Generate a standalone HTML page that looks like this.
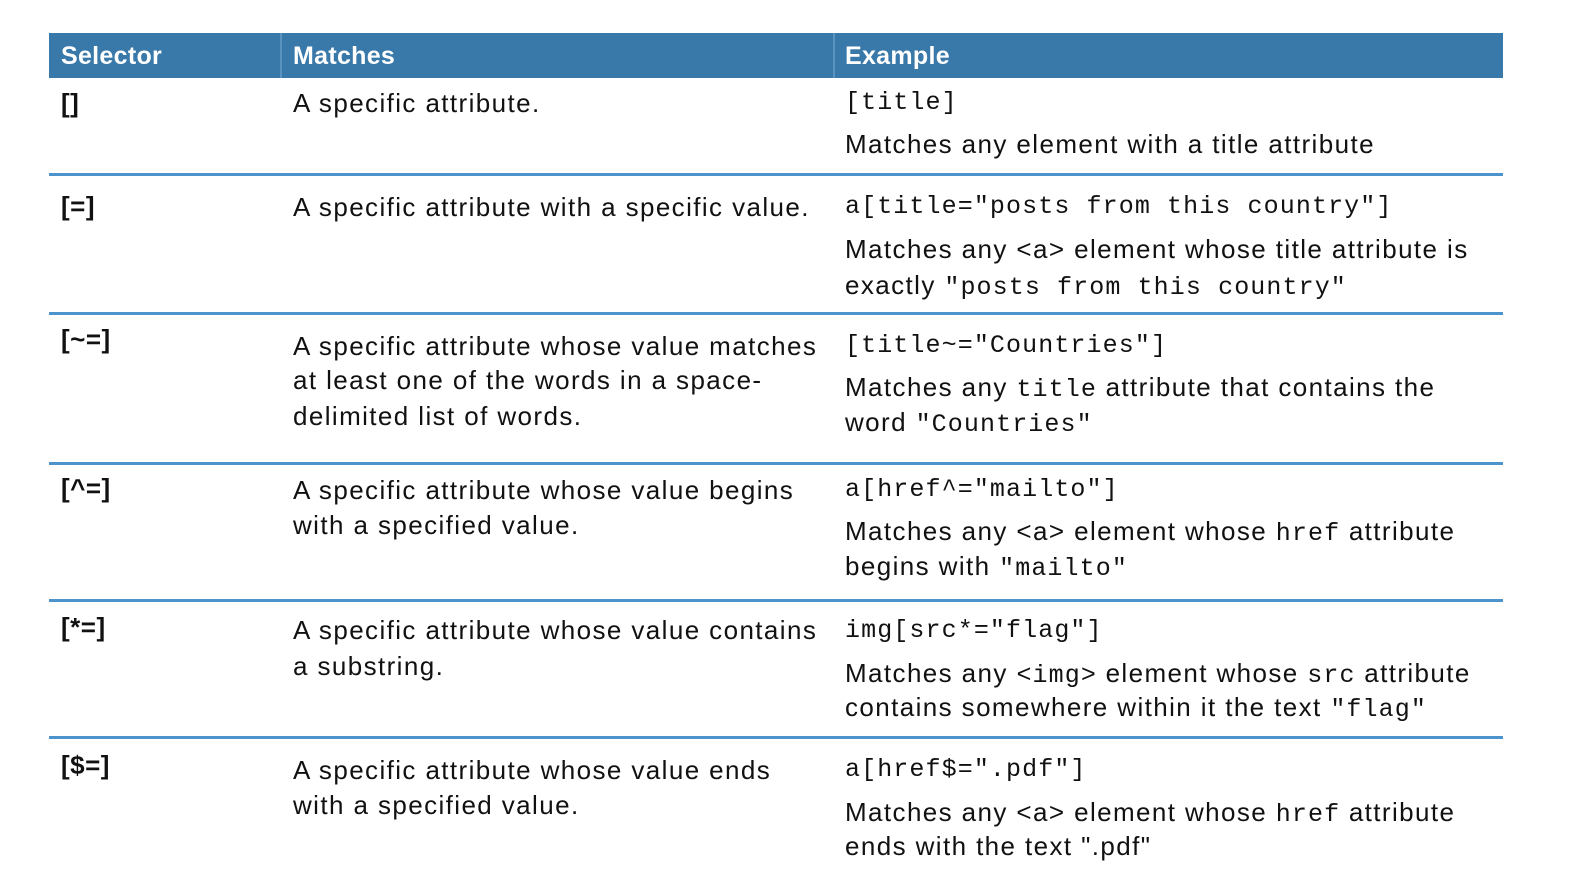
<!DOCTYPE html>
<html><head><meta charset="utf-8"><style>
body{margin:0;width:1594px;height:882px;background:#fff;position:relative;overflow:hidden;font-family:"Liberation Sans",sans-serif;color:#111}
.h{position:absolute;top:33px;left:49px;width:1454px;height:45px;background:#3979aa}
.hd{position:absolute;color:#fff;font-weight:bold;font-size:25px;line-height:30px;top:41px;letter-spacing:0.3px}
.vs{position:absolute;top:33px;width:2px;height:45px;background:#5a93c0}
.l{position:absolute;left:49px;width:1454px;height:3px;background:#4d94cc}
.t{position:absolute;font-size:26px;line-height:30px;white-space:nowrap;letter-spacing:1.4px}
.b{font-weight:bold;letter-spacing:0.5px}
.m{font-family:"Liberation Mono",monospace;font-size:25px;letter-spacing:1.1px}
</style></head><body>
<div class="h"></div>
<div class="vs" style="left:280px"></div><div class="vs" style="left:833px"></div>
<div class="hd" style="left:61px">Selector</div>
<div class="hd" style="left:293px">Matches</div>
<div class="hd" style="left:845px">Example</div>

<div class="l" style="top:173px"></div>
<div class="l" style="top:312px"></div>
<div class="l" style="top:462px"></div>
<div class="l" style="top:599px"></div>
<div class="l" style="top:736px"></div>

<div class="t b" style="left:61px;top:88px">[]</div>
<div class="t" style="left:293px;top:88px">A specific attribute.</div>
<div class="t m" style="left:845px;top:88px">[title]</div>
<div class="t" style="left:845px;top:129px">Matches any element with a title attribute</div>

<div class="t b" style="left:61px;top:191px">[=]</div>
<div class="t" style="left:293px;top:192px">A specific attribute with a specific value.</div>
<div class="t m" style="left:845px;top:192px">a[title="posts from this country"]</div>
<div class="t" style="left:845px;top:234px">Matches any &lt;a&gt; element whose title attribute is</div>
<div class="t" style="left:845px;top:270px">exactly <span class="m">"posts from this country"</span></div>

<div class="t b" style="left:61px;top:324px">[~=]</div>
<div class="t" style="left:293px;top:331px">A specific attribute whose value matches</div>
<div class="t" style="left:293px;top:365px">at least one of the words in a space-</div>
<div class="t" style="left:293px;top:401px">delimited list of words.</div>
<div class="t m" style="left:845px;top:331px">[title~="Countries"]</div>
<div class="t" style="left:845px;top:372px">Matches any <span class="m">title</span> attribute that contains the</div>
<div class="t" style="left:845px;top:407px">word <span class="m">"Countries"</span></div>

<div class="t b" style="left:61px;top:473px">[^=]</div>
<div class="t" style="left:293px;top:475px">A specific attribute whose value begins</div>
<div class="t" style="left:293px;top:510px">with a specified value.</div>
<div class="t m" style="left:845px;top:475px">a[href^="mailto"]</div>
<div class="t" style="left:845px;top:516px">Matches any &lt;a&gt; element whose <span class="m">href</span> attribute</div>
<div class="t" style="left:845px;top:551px">begins with <span class="m">"mailto"</span></div>

<div class="t b" style="left:61px;top:612px">[*=]</div>
<div class="t" style="left:293px;top:615px">A specific attribute whose value contains</div>
<div class="t" style="left:293px;top:651px">a substring.</div>
<div class="t m" style="left:845px;top:616px">img[src*="flag"]</div>
<div class="t" style="left:845px;top:658px">Matches any <span class="m">&lt;img&gt;</span> element whose <span class="m">src</span> attribute</div>
<div class="t" style="left:845px;top:692px">contains somewhere within it the text <span class="m">"flag"</span></div>

<div class="t b" style="left:61px;top:750px">[$=]</div>
<div class="t" style="left:293px;top:755px">A specific attribute whose value ends</div>
<div class="t" style="left:293px;top:790px">with a specified value.</div>
<div class="t m" style="left:845px;top:755px">a[href$=".pdf"]</div>
<div class="t" style="left:845px;top:797px">Matches any &lt;a&gt; element whose <span class="m">href</span> attribute</div>
<div class="t" style="left:845px;top:831px">ends with the text ".pdf"</div>
</body></html>
